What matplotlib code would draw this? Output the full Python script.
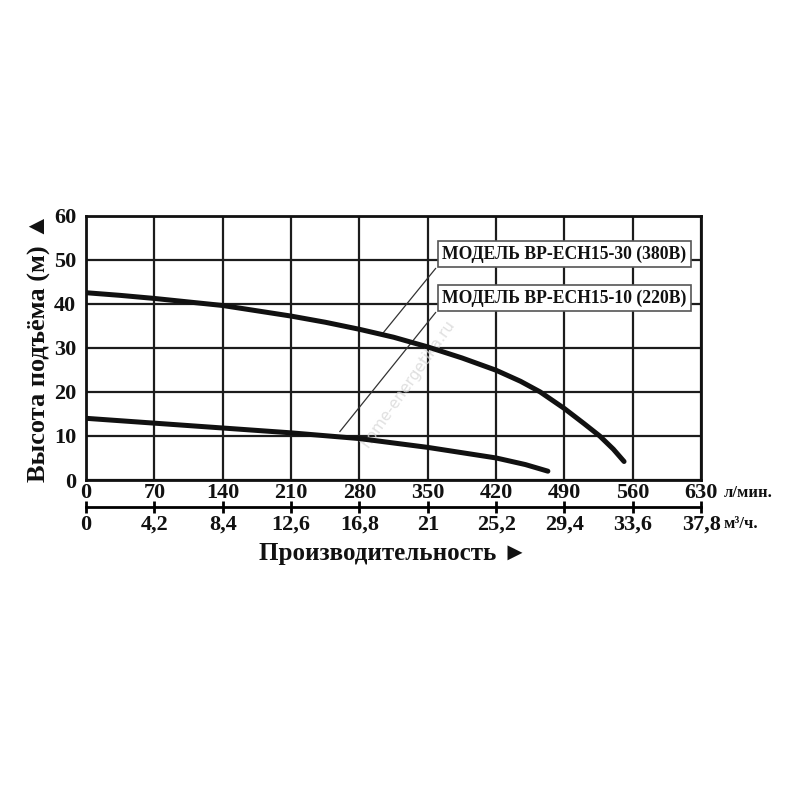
import matplotlib
matplotlib.use("Agg")
import matplotlib.pyplot as plt

# flow, l/min and head, m for the two pump models
flow_380 = [0, 35, 70, 140, 210, 245, 280, 315, 350, 385, 420, 445, 465, 490, 510, 526, 540, 551]
head_380 = [42.5, 41.9, 41.2, 39.6, 37.2, 35.8, 34.2, 32.4, 30.2, 27.7, 24.9, 22.4, 20.0,
            16.2, 12.8, 10.0, 7.0, 4.2]
flow_220 = [0, 70, 140, 210, 280, 350, 420, 450, 473]
head_220 = [14.0, 12.9, 11.8, 10.7, 9.4, 7.4, 5.0, 3.5, 2.0]

flow_ticks = [0, 70, 140, 210, 280, 350, 420, 490, 560, 630]
m3h_labels = ["0", "4,2", "8,4", "12,6", "16,8", "21", "25,2", "29,4", "33,6", "37,8"]
head_ticks = [0, 10, 20, 30, 40, 50, 60]

labels = ["МОДЕЛЬ BP-ECH15-30 (380B)", "МОДЕЛЬ BP-ECH15-10 (220B)"]

SERIF = ["Liberation Serif", "DejaVu Serif"]
ARROW = ["Liberation Serif", "DejaVu Sans"]
INK = "#111111"

fig = plt.figure(figsize=(8, 8), dpi=100)
ax = fig.add_axes([0.1075, 0.4, 0.769, 0.3305])

ax.plot(flow_380, head_380, color=INK, lw=3.6, solid_capstyle="round",
        solid_joinstyle="round", zorder=4)
ax.plot(flow_220, head_220, color=INK, lw=3.6, solid_capstyle="round",
        solid_joinstyle="round", zorder=4)

ax.set_xlim(0, 630)
ax.set_ylim(0, 60)
ax.set_xticks(flow_ticks)
ax.set_yticks(head_ticks)
ax.grid(True, color="#1c1c1c", lw=1.6)
for s in ax.spines.values():
    s.set_linewidth(2.0)
    s.set_color(INK)
ax.tick_params(length=0, pad=2)
ax.tick_params(axis="y", pad=7)
for lab in ax.get_xticklabels() + ax.get_yticklabels():
    lab.set_fontfamily(SERIF)
    lab.set_fontweight("bold")
    lab.set_fontsize(16)
    lab.set_color(INK)

# second scale in m3/h under the main axis
sec = ax.secondary_xaxis(-0.103, functions=(lambda x: x * 0.06, lambda x: x / 0.06))
sec.set_xticks([f * 0.06 for f in flow_ticks], m3h_labels)
sec.spines["bottom"].set_linewidth(2.0)
sec.tick_params(direction="inout", length=9, width=2.0, pad=1)
for lab in sec.get_xticklabels():
    lab.set_fontfamily(SERIF)
    lab.set_fontweight("bold")
    lab.set_fontsize(16)
    lab.set_color(INK)

ax.text(1.037, -0.05, "л/мин.", transform=ax.transAxes, fontsize=12, fontweight="bold",
        family=SERIF, ha="left", va="center", color=INK)
ax.text(1.037, -0.165, "м³/ч.", transform=ax.transAxes, fontsize=12, fontweight="bold",
        family=SERIF, ha="left", va="center", color=INK)

ax.set_ylabel("Высота подъёма (м) ▲", fontsize=19, fontweight="bold", family=ARROW,
              color=INK, labelpad=2)
ax.set_xlabel("Производительность ►", fontsize=18, fontweight="bold", family=ARROW,
              color=INK, labelpad=28)

# model labels with leader lines
box = dict(boxstyle="square,pad=0.25", fc="white", ec="#555555", lw=1.2)
ax.plot([358, 304], [48.0, 33.3], color="#333333", lw=0.9, zorder=3)
ax.plot([358, 260], [38.0, 11.0], color="#333333", lw=0.9, zorder=3)
ax.text(490, 51.3, labels[0], fontsize=12.7, fontweight="bold", family=SERIF,
        ha="center", va="center", color=INK, bbox=box, zorder=5)
ax.text(490, 41.3, labels[1], fontsize=12.7, fontweight="bold", family=SERIF,
        ha="center", va="center", color=INK, bbox=box, zorder=5)

ax.text(330, 22, "home-energetika.ru", rotation=55, fontsize=11, color="#d8d8d8",
        ha="center", va="center", alpha=0.8, zorder=2)

fig.savefig("out.png", dpi=100, facecolor="white")
